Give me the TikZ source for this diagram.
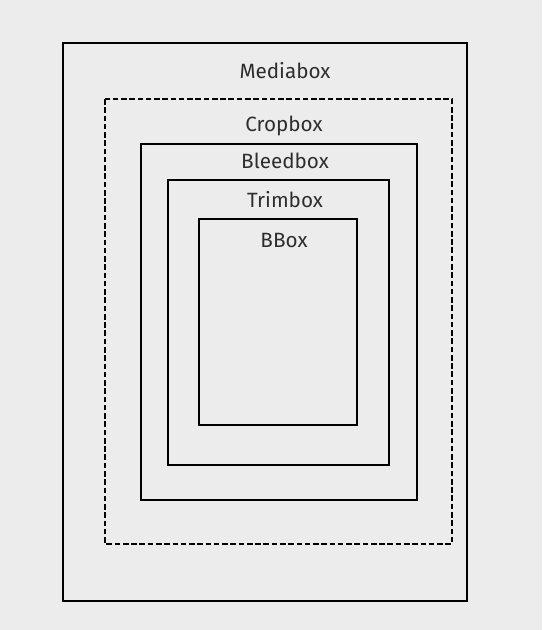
\documentclass[tikz,border=0pt]{standalone}
\usepackage{fontspec}
\setmainfont{Fira Sans}
\usetikzlibrary{positioning}
\definecolor{PageGray}{HTML}{ECECEC}
\definecolor{LabelText}{HTML}{2E2E2E}

\begin{document}
\begin{tikzpicture}[x=0.75pt,y=-0.75pt,
      frame/.style={draw=black,line width=1.9pt},
      cropframe/.style={draw=black,line width=1.9pt,dash pattern=on 4.2pt off 2pt},
      boxlabel/.style={anchor=base,font=\fontsize{15.5}{17}\selectfont,text=LabelText,inner sep=0pt}]
    \fill[PageGray] (0,0) rectangle (542,630);
    \draw[frame]     (63,43)   rectangle (467,601);
    \draw[cropframe] (105,99)  rectangle (452,544);
    \draw[frame]     (141,144) rectangle (417,500);
    \draw[frame]     (168,180) rectangle (389,465);
    \draw[frame]     (199,219) rectangle (357,425);
    \node[boxlabel] (media) at (285,79)  {Mediabox};
    \node[boxlabel] (crop)  at (284,132) {Cropbox};
    \node[boxlabel] (bleed) at (285,169) {Bleedbox};
    \node[boxlabel] (trim)  at (285,208) {Trimbox};
    \node[boxlabel] (bbox)  at (284,248) {BBox};
  \end{tikzpicture}
\end{document}
